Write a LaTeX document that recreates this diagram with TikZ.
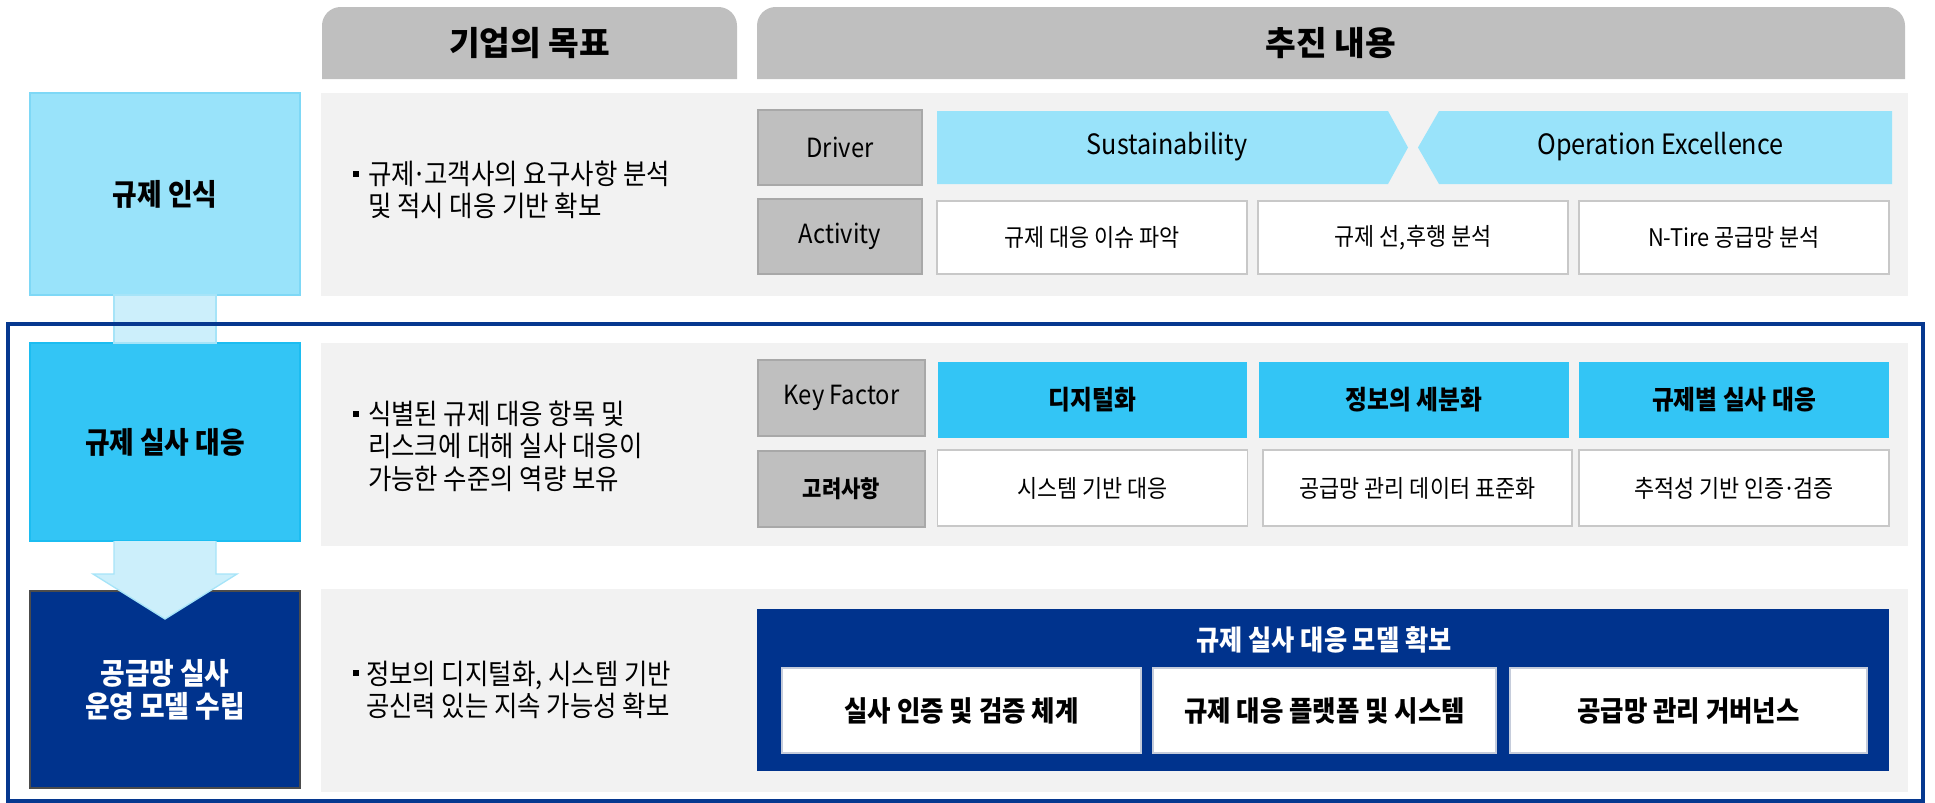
\documentclass[tikz,border=0pt]{standalone}
\usepackage{fontspec}
\setmainfont{Noto Sans CJK KR}[FakeStretch=0.9]
\newfontfamily\hdrfont{Noto Sans CJK KR}
\usetikzlibrary{calc}
\definecolor{hdr}{HTML}{BFBFBF}
\definecolor{hdrb}{HTML}{A8A8A8}
\definecolor{panel}{HTML}{F2F2F2}
\definecolor{lblue}{HTML}{99E3FA}
\definecolor{lblueb}{HTML}{7ED8F6}
\definecolor{mblue}{HTML}{33C5F5}
\definecolor{mblueb}{HTML}{1CBDF1}
\definecolor{navy}{HTML}{00338D}
\definecolor{stemc}{HTML}{CCEFFB}
\definecolor{stemb}{HTML}{A6E4F8}
\definecolor{framec}{HTML}{06388F}
\definecolor{itemb}{HTML}{C8C8C8}
\definecolor{item3b}{HTML}{C5CCDB}
\newcommand{\mdot}{\kern-0.08em·\kern-0.08em}
\tikzset{
  every node/.style={inner sep=0pt, outer sep=0pt},
  panelbox/.style={fill=panel, minimum width=1190.25pt, minimum height=152.25pt},
  stagebox/.style={minimum width=202.5pt, line width=1.1pt, align=center,
     font=\fontsize{22.3}{24.75}\selectfont\bfseries},
  lblbox/.style={fill=hdr, draw=hdrb, line width=1.1pt, minimum width=123pt, minimum height=56.25pt,
     font=\fontsize{19.8}{24}\selectfont},
  itembox/.style={fill=white, draw=itemb, line width=1.1pt, minimum width=232.5pt, minimum height=54.75pt,
     font=\fontsize{18.2}{20}\selectfont},
  kfbox/.style={fill=mblue, minimum width=232pt, minimum height=57pt,
     font=\fontsize{19.8}{22}\selectfont\bfseries},
  m3box/.style={fill=white, draw=item3b, line width=1.1pt, minimum height=63.75pt,
     font=\fontsize{21.2}{23}\selectfont\bfseries},
  bultext/.style={anchor=west, align=left, font=\fontsize{21.2}{24.3}\selectfont},
  bulsq/.style={fill=black, minimum width=4.5pt, minimum height=4.5pt},
  hdrtext/.style={font=\hdrfont\fontsize{25}{30}\selectfont\bfseries},
  drv/.style={fill=lblue},
  drvtext/.style={font=\fontsize{21}{26}\selectfont},
  stemshape/.style={fill=stemc, draw=stemb, line width=1pt},
}
\begin{document}
\begin{tikzpicture}[x=0.75pt,y=-0.75pt]
\useasboundingbox (0,0) rectangle (1935,803);

% headers
\fill[hdr] (322,79) [rounded corners=14pt] -- (322,7) -- (737,7) [sharp corners] -- (737,79) -- cycle;
\node[hdrtext] (h1) at (529.5,43) {기업의 목표};
\fill[hdr] (757,79) [rounded corners=14pt] -- (757,7) -- (1905,7) [sharp corners] -- (1905,79) -- cycle;
\node[hdrtext] (h2) at (1331,43) {추진 내용};

% panels
\node[panelbox] (p1) at (1114.5,194.5) {};
\node[panelbox] (p2) at (1114.5,444.5) {};
\node[panelbox] (p3) at (1114.5,690.5) {};

% stage boxes
\node[stagebox, fill=lblue, draw=lblueb, minimum height=151.5pt] (r1) at (165,194) {규제 인식};
\node[stagebox, fill=mblue, draw=mblueb, minimum height=148.5pt] (r2) at (165,442) {규제 실사 대응};
\node[stagebox, fill=navy, draw=black!70, text=white, minimum height=147.75pt] (r3) at (165,689.5) {공급망 실사\\운영 모델 수립};

% connectors
\filldraw[stemshape] ($(r1.south)+(-51,0)$) rectangle ($(r2.north)+(51,0)$);
\filldraw[stemshape] ($(r2.south)+(-51,0)$) -- ($(r2.south)+(-51,33)$) -- ($(r2.south)+(-72,33)$)
   -- ($(r3.north)+(0,28)$) -- ($(r2.south)+(72,33)$) -- ($(r2.south)+(51,33)$) -- ($(r2.south)+(51,0)$);

% bullets
\node[bulsq] (b1) at (356,174) {};
\node[bultext] (t1) at (368,190) {규제\mdot 고객사의 요구사항 분석\\및 적시 대응 기반 확보};
\node[bulsq] (b2) at (356,414) {};
\node[bultext] (t2) at (368,446) {식별된 규제 대응 항목 및\\리스크에 대해 실사 대응이\\가능한 수준의 역량 보유};
\node[bulsq] (b3) at (356,673) {};
\node[bultext] (t3) at (366,690) {정보의 디지털화, 시스템 기반\\공신력 있는 지속 가능성 확보};

% row 1
\node[lblbox] (drv) at (840,147.5) {Driver};
\node[lblbox] (act) at (840,236.5) {Activity};
\fill[drv] (937,111) -- (1388,111) -- (1408,147.5) -- (1388,184) -- (937,184) -- cycle;
\node[drvtext] (sus) at (1167,147) {Sustainability};
\fill[drv] (1439,111) -- (1892,111) -- (1892,184) -- (1439,184) -- (1418,147.5) -- cycle;
\node[drvtext] (oe) at (1660.5,147) {Operation Excellence};
\node[itembox] (a1) at (1092,237.5) {규제 대응 이슈 파악};
\node[itembox] (a2) at (1413,237.5) {규제 선,후행 분석};
\node[itembox] (a3) at (1734,237.5) {N-Tire 공급망 분석};

% row 2
\node[lblbox, minimum width=125.25pt, minimum height=57pt] (kf) at (841.5,398) {Key Factor};
\node[lblbox, minimum width=125.25pt, minimum height=57pt, font=\fontsize{17.5}{20}\selectfont\bfseries] (gr) at (841.5,489) {고려사항};
\node[kfbox] (k1) at (1092.5,400) {디지털화};
\node[kfbox] (k2) at (1414,400) {정보의 세분화};
\node[kfbox] (k3) at (1734,400) {규제별 실사 대응};
\node[itembox, minimum height=57pt] (g1) at (1092.5,488) {시스템 기반 대응};
\node[itembox, minimum height=57pt, minimum width=231.75pt] (g2) at (1417.5,488) {공급망 관리 데이터 표준화};
\node[itembox, minimum height=57pt] (g3) at (1734,488) {추적성 기반 인증\mdot 검증};

% row 3
\node[fill=navy, minimum width=849pt, minimum height=121.5pt] (m) at (1323,690) {};
\node[text=white, font=\fontsize{21}{23}\selectfont\bfseries] (mt) at (1324,640) {규제 실사 대응 모델 확보};
\node[m3box, minimum width=269.25pt] (m1) at (961.5,710.5) {실사 인증 및 검증 체계};
\node[m3box, minimum width=257.25pt] (m2) at (1324.5,710.5) {규제 대응 플랫폼 및 시스템};
\node[m3box, minimum width=267.75pt] (m3) at (1688.5,710.5) {공급망 관리 거버넌스};

% frame
\draw[framec, line width=3pt] (8,323.5) rectangle (1923,801);
\end{tikzpicture}
\end{document}
